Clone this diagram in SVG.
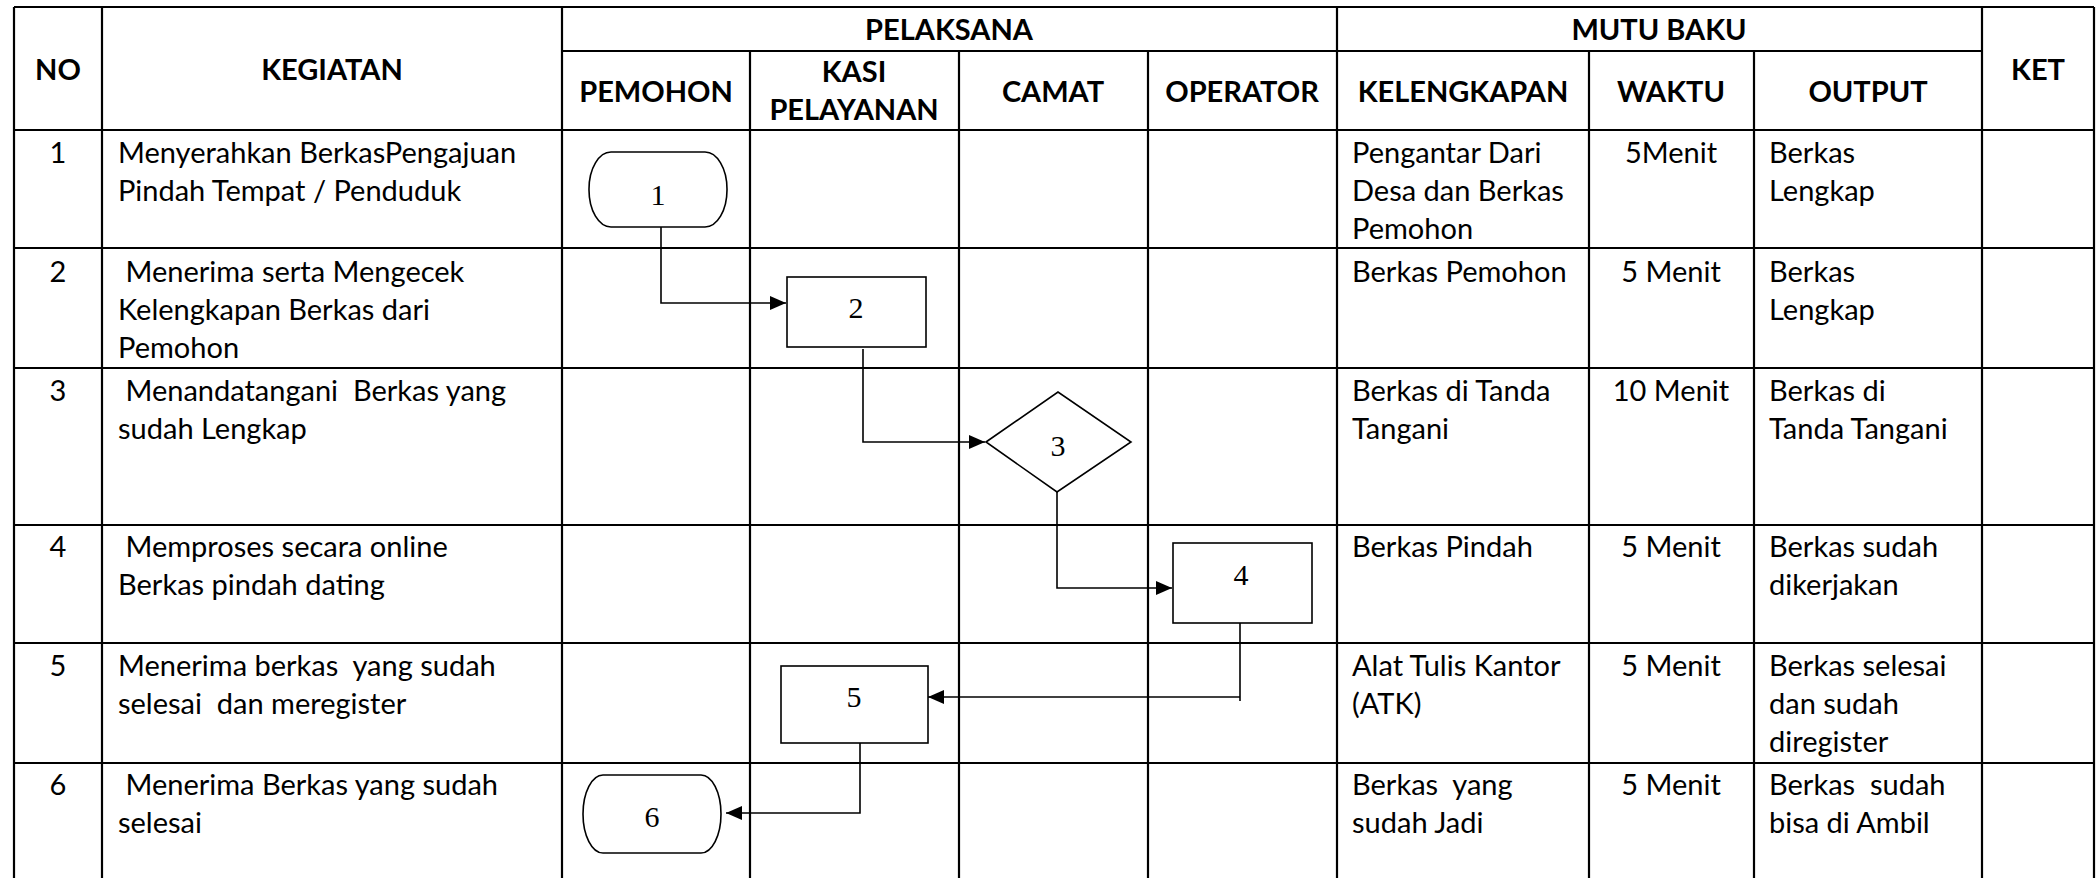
<svg xmlns="http://www.w3.org/2000/svg" width="2098" height="878" viewBox="0 0 2098 878">
<defs>
<style>
.grid{stroke:#000;stroke-width:2.2;fill:none}
.shape{fill:#fff;stroke:#000;stroke-width:1.6}
.conn{fill:none;stroke:#000;stroke-width:1.6}
.h{font-family:Lato,"Liberation Sans",sans-serif;font-weight:bold;font-size:29px;text-anchor:middle;fill:#000}
.t{font-family:Lato,"Liberation Sans",sans-serif;font-size:29px;fill:#000;white-space:pre}
.c{font-family:Lato,"Liberation Sans",sans-serif;font-size:29px;fill:#000;text-anchor:middle;white-space:pre}
.n{font-family:"Liberation Serif","Times New Roman",serif;font-size:30px;text-anchor:middle;fill:#000}
</style>
<marker id="arr" markerUnits="userSpaceOnUse" markerWidth="17" markerHeight="14" refX="16" refY="7" orient="auto">
<path d="M0,0 L16,7 L0,14 z" fill="#000"/>
</marker>
</defs>
<rect width="2098" height="878" fill="#fff"/>
<g id="table">
<path class="grid" d="M14,7 H2094 M562,51 H1982 M14,130 H2094 M14,248 H2094 M14,368 H2094 M14,525 H2094 M14,643 H2094 M14,763 H2094"/>
<path class="grid" d="M14,7 V878 M102,7 V878 M562,7 V878 M750,51 V878 M959,51 V878 M1148,51 V878 M1337,7 V878 M1589,51 V878 M1754,51 V878 M1982,7 V878 M2094,7 V878"/>
</g>
<g id="header">
<text class="h" x="58" y="80">NO</text>
<text class="h" x="332" y="80">KEGIATAN</text>
<text class="h" x="949" y="40">PELAKSANA</text>
<text class="h" x="1659" y="40">MUTU BAKU</text>
<text class="h" x="2038" y="80">KET</text>
<text class="h" x="656" y="102">PEMOHON</text>
<text class="h" x="854" y="82">KASI</text>
<text class="h" x="854" y="120">PELAYANAN</text>
<text class="h" x="1053" y="102">CAMAT</text>
<text class="h" x="1242" y="102">OPERATOR</text>
<text class="h" x="1463" y="102">KELENGKAPAN</text>
<text class="h" x="1671" y="102">WAKTU</text>
<text class="h" x="1868" y="102">OUTPUT</text>
</g>
<g id="row1">
<text class="c" x="58" y="163">1</text>
<text class="t" x="118" y="163">Menyerahkan BerkasPengajuan</text>
<text class="t" x="118" y="201">Pindah Tempat / Penduduk</text>
<text class="t" x="1352" y="163">Pengantar Dari</text>
<text class="t" x="1352" y="201">Desa dan Berkas</text>
<text class="t" x="1352" y="239">Pemohon</text>
<text class="c" x="1671" y="163">5Menit</text>
<text class="t" x="1769" y="163">Berkas</text>
<text class="t" x="1769" y="201">Lengkap</text>
</g>
<g id="row2">
<text class="c" x="58" y="282">2</text>
<text class="t" x="118" y="282"> Menerima serta Mengecek</text>
<text class="t" x="118" y="320">Kelengkapan Berkas dari</text>
<text class="t" x="118" y="358">Pemohon</text>
<text class="t" x="1352" y="282">Berkas Pemohon</text>
<text class="c" x="1671" y="282">5 Menit</text>
<text class="t" x="1769" y="282">Berkas</text>
<text class="t" x="1769" y="320">Lengkap</text>
</g>
<g id="row3">
<text class="c" x="58" y="401">3</text>
<text class="t" x="118" y="401"> Menandatangani  Berkas yang</text>
<text class="t" x="118" y="439">sudah Lengkap</text>
<text class="t" x="1352" y="401">Berkas di Tanda</text>
<text class="t" x="1352" y="439">Tangani</text>
<text class="c" x="1671" y="401">10 Menit</text>
<text class="t" x="1769" y="401">Berkas di</text>
<text class="t" x="1769" y="439">Tanda Tangani</text>
</g>
<g id="row4">
<text class="c" x="58" y="557">4</text>
<text class="t" x="118" y="557"> Memproses secara online</text>
<text class="t" x="118" y="595">Berkas pindah dating</text>
<text class="t" x="1352" y="557">Berkas Pindah</text>
<text class="c" x="1671" y="557">5 Menit</text>
<text class="t" x="1769" y="557">Berkas sudah</text>
<text class="t" x="1769" y="595">dikerjakan</text>
</g>
<g id="row5">
<text class="c" x="58" y="676">5</text>
<text class="t" x="118" y="676">Menerima berkas  yang sudah</text>
<text class="t" x="118" y="714">selesai  dan meregister</text>
<text class="t" x="1352" y="676">Alat Tulis Kantor</text>
<text class="t" x="1352" y="714">(ATK)</text>
<text class="c" x="1671" y="676">5 Menit</text>
<text class="t" x="1769" y="676">Berkas selesai</text>
<text class="t" x="1769" y="714">dan sudah</text>
<text class="t" x="1769" y="752">diregister</text>
</g>
<g id="row6">
<text class="c" x="58" y="795">6</text>
<text class="t" x="118" y="795"> Menerima Berkas yang sudah</text>
<text class="t" x="118" y="833">selesai</text>
<text class="t" x="1352" y="795">Berkas  yang</text>
<text class="t" x="1352" y="833">sudah Jadi</text>
<text class="c" x="1671" y="795">5 Menit</text>
<text class="t" x="1769" y="795">Berkas  sudah</text>
<text class="t" x="1769" y="833">bisa di Ambil</text>
</g>
<g id="connectors">
<path class="conn" d="M661,227 V303 H786" marker-end="url(#arr)"/>
<path class="conn" d="M863,349 V442 H985" marker-end="url(#arr)"/>
<path class="conn" d="M1057,492 V588 H1172" marker-end="url(#arr)"/>
<path class="conn" d="M1240,622 V701"/>
<path class="conn" d="M1240,697 H928" marker-end="url(#arr)"/>
<path class="conn" d="M860,743 V813 H726" marker-end="url(#arr)"/>
</g>
<g id="node1">
<rect class="shape" x="589" y="152" width="138" height="75" rx="22" ry="37"/>
<text class="n" x="658" y="205">1</text>
</g>
<g id="node2">
<rect class="shape" x="787" y="277" width="139" height="70"/>
<text class="n" x="856" y="318">2</text>
</g>
<g id="node3">
<polygon class="shape" points="986,442 1058,392 1131,442 1057,492"/>
<text class="n" x="1058" y="456">3</text>
</g>
<g id="node4">
<rect class="shape" x="1173" y="543" width="139" height="80"/>
<text class="n" x="1241" y="585">4</text>
</g>
<g id="node5">
<rect class="shape" x="781" y="666" width="147" height="77"/>
<text class="n" x="854" y="707">5</text>
</g>
<g id="node6">
<rect class="shape" x="583" y="775" width="138" height="78" rx="20" ry="39"/>
<text class="n" x="652" y="827">6</text>
</g>
</svg>
